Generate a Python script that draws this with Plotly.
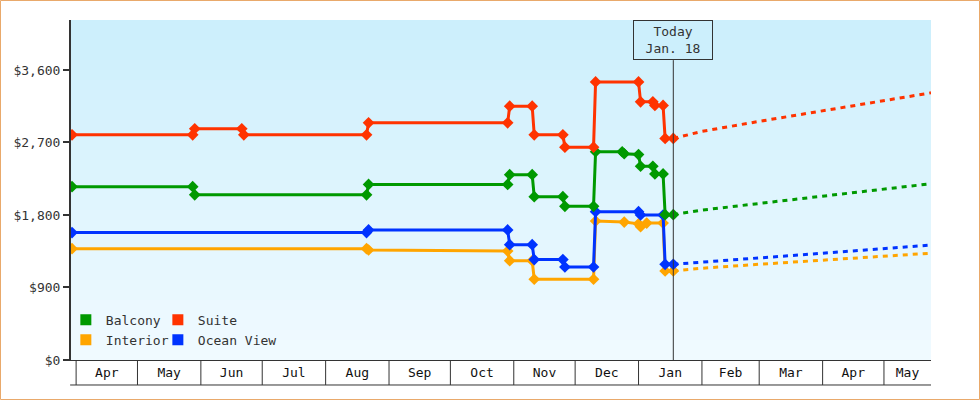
import plotly.graph_objects as go
import pandas as pd

# ---------------- data ----------------
balcony_dates = ["2013-03-30", "2013-05-28", "2013-05-29", "2013-08-21", "2013-08-22", "2013-10-29",
                 "2013-10-30", "2013-11-10", "2013-11-11", "2013-11-25", "2013-11-26", "2013-12-10",
                 "2013-12-11", "2013-12-24", "2013-12-25", "2014-01-01", "2014-01-02", "2014-01-08",
                 "2014-01-09", "2014-01-13", "2014-01-14", "2014-01-18"]
balcony_prices = [2151, 2151, 2050, 2050, 2179, 2179,
                  2300, 2300, 2027, 2027, 1907, 1907,
                  2585, 2585, 2560, 2550, 2405, 2405,
                  2310, 2310, 1804, 1804]

suite_dates = ["2013-03-30", "2013-05-28", "2013-05-29", "2013-06-21", "2013-06-22", "2013-08-21",
               "2013-08-22", "2013-10-29", "2013-10-30", "2013-11-10", "2013-11-11", "2013-11-25",
               "2013-11-26", "2013-12-10", "2013-12-11", "2014-01-01", "2014-01-02", "2014-01-08",
               "2014-01-09", "2014-01-13", "2014-01-14", "2014-01-18"]
suite_prices = [2795, 2795, 2870, 2870, 2795, 2795,
                2944, 2944, 3150, 3150, 2795, 2795,
                2642, 2642, 3452, 3452, 3205, 3205,
                3160, 3160, 2750, 2750]

ocean_dates = ["2013-03-30", "2013-08-21", "2013-08-22", "2013-10-29", "2013-10-30", "2013-11-10",
               "2013-11-11", "2013-11-25", "2013-11-26", "2013-12-10", "2013-12-11", "2014-01-01",
               "2014-01-02", "2014-01-13", "2014-01-14", "2014-01-18"]
ocean_prices = [1581, 1581, 1615, 1615, 1432, 1432,
                1246, 1246, 1154, 1154, 1841, 1841,
                1800, 1800, 1188, 1188]

interior_dates = ["2013-03-30", "2013-08-21", "2013-08-22", "2013-10-29", "2013-10-30", "2013-11-10",
                  "2013-11-11", "2013-12-10", "2013-12-11", "2013-12-25", "2014-01-01", "2014-01-02",
                  "2014-01-05", "2014-01-13", "2014-01-14", "2014-01-18"]
interior_prices = [1382, 1382, 1365, 1352, 1233, 1233,
                   1002, 1002, 1724, 1712, 1690, 1655,
                   1700, 1700, 1105, 1105]

forecast_dates = ["2014-01-18", "2014-02-01", "2014-03-01", "2014-04-01", "2014-05-01", "2014-05-24"]
balcony_forecast = [1804, 1860, 1943, 2033, 2120, 2188]
suite_forecast = [2750, 2838, 2962, 3096, 3226, 3316]
ocean_forecast = [1188, 1212, 1267, 1326, 1383, 1427]
interior_forecast = [1105, 1139, 1188, 1238, 1288, 1326]

month_starts = ["2013-04-01", "2013-05-01", "2013-06-01", "2013-07-01", "2013-08-01", "2013-09-01",
                "2013-10-01", "2013-11-01", "2013-12-01", "2014-01-01", "2014-02-01", "2014-03-01",
                "2014-04-01", "2014-05-01", "2014-06-01"]
month_labels = ["Apr", "May", "Jun", "Jul", "Aug", "Sep", "Oct", "Nov", "Dec",
                "Jan", "Feb", "Mar", "Apr", "May"]
y_ticks = [0, 900, 1800, 2700, 3600]
y_tick_labels = ["$0", "$900", "$1,800", "$2,700", "$3,600"]

today = "2014-01-18"
today_text = "Today<br>Jan. 18"
x_range = ["2013-03-29 12:00", "2014-05-24"]
y_range = [0, 4220]

# ---------------- styling ----------------
FONT = "DejaVu Sans Mono"
INK = "#333333"
colors = {"Balcony": "#009900", "Suite": "#ff3300", "Interior": "#ffa500", "Ocean View": "#0033ff"}

series = [
    ("Interior", interior_dates, interior_prices, interior_forecast),
    ("Ocean View", ocean_dates, ocean_prices, ocean_forecast),
    ("Balcony", balcony_dates, balcony_prices, balcony_forecast),
    ("Suite", suite_dates, suite_prices, suite_forecast),
]

fig = go.Figure()
for name, d, p, fc in series:
    c = colors[name]
    fig.add_trace(go.Scatter(x=forecast_dates, y=fc, mode="lines",
                             line=dict(color=c, width=3, dash="5px,5px"),
                             showlegend=False, hoverinfo="skip"))
    fig.add_trace(go.Scatter(x=d, y=p, mode="lines+markers", name=name,
                             line=dict(color=c, width=3),
                             marker=dict(symbol="diamond", size=9, color=c),
                             showlegend=False))

# legend entries (square swatches), two columns
for name, lg in [("Balcony", "legend"), ("Interior", "legend"),
                 ("Suite", "legend2"), ("Ocean View", "legend2")]:
    fig.add_trace(go.Scatter(x=[None], y=[None], mode="markers", name=name,
                             marker=dict(symbol="square", size=11, color=colors[name]),
                             legend=lg, showlegend=True))

# month tick label positions: middle of each visible month
rs, re_ = pd.Timestamp(x_range[0]), pd.Timestamp(x_range[1])
tick_vals = []
for a, b in zip(month_starts[:-1], month_starts[1:]):
    a, b = max(pd.Timestamp(a), rs), min(pd.Timestamp(b), re_)
    tick_vals.append(a + (b - a) / 2)

shapes = []
# gradient background bands
top = (204, 239, 252)
bot = (240, 250, 255)
n = 34
for i in range(n):
    f = i / (n - 1)
    col = "rgb(%d,%d,%d)" % tuple(round(bot[k] + (top[k] - bot[k]) * f) for k in range(3))
    shapes.append(dict(type="rect", xref="paper", yref="paper", x0=0, x1=1,
                       y0=i / n, y1=(i + 1) / n, fillcolor=col, line=dict(width=0), layer="below"))
# today line
shapes.append(dict(type="line", xref="x", yref="paper", x0=today, x1=today, y0=0, y1=0.882,
                   line=dict(color=INK, width=1), layer="above"))
# bottom line of the month band
shapes.append(dict(type="line", xref="paper", yref="paper", x0=-0.001, x1=1, y0=-0.0735, y1=-0.0735,
                   line=dict(color=INK, width=1)))
# month separators
for m in month_starts:
    t = pd.Timestamp(m)
    if rs <= t <= re_:
        shapes.append(dict(type="line", xref="x", yref="paper", x0=m, x1=m, y0=0, y1=-0.0735,
                           line=dict(color=INK, width=1)))
# outer orange frame
shapes.append(dict(type="rect", xref="paper", yref="paper",
                   x0=-70.5 / 860, x1=908.5 / 860, y0=(360 - 399.5) / 340, y1=(360 - 0.5) / 340,
                   line=dict(color="#e9a96b", width=1), fillcolor="rgba(0,0,0,0)"))

fig.update_layout(
    width=980, height=400,
    margin=dict(l=71, r=49, t=20, b=40),
    paper_bgcolor="white",
    plot_bgcolor="rgb(240,250,255)",
    font=dict(family=FONT, size=13, color=INK),
    shapes=shapes,
    xaxis=dict(type="date", range=x_range, showgrid=False, zeroline=False,
               showline=True, linecolor=INK, linewidth=1,
               tickmode="array", tickvals=tick_vals, ticktext=month_labels,
               ticks="", tickfont=dict(family=FONT, size=13, color="#111")),
    yaxis=dict(range=y_range, showgrid=False, zeroline=False,
               showline=True, linecolor=INK, linewidth=2,
               tickmode="array", tickvals=y_ticks, ticktext=y_tick_labels,
               ticks="outside", ticklen=6, tickwidth=2, tickcolor=INK,
               tickfont=dict(family=FONT, size=13, color=INK)),
    legend=dict(x=-0.006, y=0.162, xanchor="left", yanchor="top", bgcolor="rgba(0,0,0,0)",
                font=dict(family=FONT, size=13, color=INK), traceorder="normal"),
    legend2=dict(x=0.101, y=0.162, xanchor="left", yanchor="top", bgcolor="rgba(0,0,0,0)",
                 font=dict(family=FONT, size=13, color=INK), traceorder="normal"),
    annotations=[dict(x=today, xref="x", y=0.941, yref="paper", text=today_text, showarrow=False,
                      width=78, height=38, borderpad=0, bordercolor=INK, borderwidth=1,
                      bgcolor="rgba(204,239,252,1)", xanchor="center", yanchor="middle",
                      font=dict(family=FONT, size=13, color=INK))],
)

fig.write_html("out.html", config={"displayModeBar": False},
               post_script="document.body.style.margin='0';")
